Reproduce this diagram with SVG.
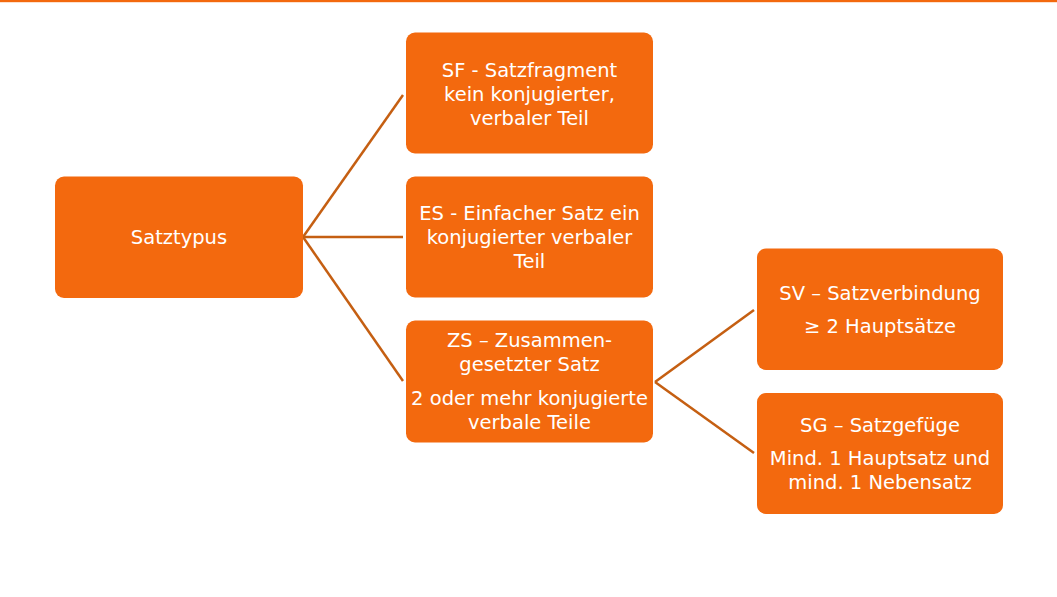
<svg xmlns="http://www.w3.org/2000/svg" width="1057" height="597" viewBox="0 0 1057 597">
<style>
.node rect{fill:#F3690E;}
.node text{fill:#FFFFFF;font-family:"DejaVu Sans",sans-serif;font-size:19.5px;text-anchor:middle;}
.conn line{stroke:#C55F12;stroke-width:2.5;fill:none;}
</style>
<rect x="0" y="0" width="1057" height="597" fill="#FFFFFF"/>
<rect x="0" y="0" width="1057" height="2.2" fill="#F3690E"/>
<g id="connectors" class="conn">
<line x1="303" y1="237" x2="403" y2="95"/>
<line x1="303" y1="237" x2="403" y2="237"/>
<line x1="303" y1="237" x2="403" y2="381"/>
<line x1="655" y1="382" x2="754" y2="310"/>
<line x1="655" y1="382" x2="754" y2="453"/>
</g>
<g id="satztypus" class="node">
<rect x="55" y="176.5" width="248" height="121.5" rx="9"/>
<text x="179" y="244">Satztypus</text>
</g>
<g id="sf" class="node">
<rect x="406" y="32.5" width="247" height="121" rx="9"/>
<text x="529.5" y="77">SF - Satzfragment</text>
<text x="529.5" y="101">kein konjugierter,</text>
<text x="529.5" y="124.5">verbaler Teil</text>
</g>
<g id="es" class="node">
<rect x="406" y="176.5" width="247" height="121" rx="9"/>
<text x="529.5" y="220">ES - Einfacher Satz ein</text>
<text x="529.5" y="244">konjugierter verbaler</text>
<text x="529.5" y="268">Teil</text>
</g>
<g id="zs" class="node">
<rect x="406" y="320.5" width="247" height="122" rx="9"/>
<text x="529.5" y="347">ZS – Zusammen-</text>
<text x="529.5" y="371">gesetzter Satz</text>
<text x="529.5" y="405">2 oder mehr konjugierte</text>
<text x="529.5" y="428.5">verbale Teile</text>
</g>
<g id="sv" class="node">
<rect x="757" y="248.5" width="246" height="121.5" rx="9"/>
<text x="880" y="300">SV – Satzverbindung</text>
<text x="880" y="333">≥ 2 Hauptsätze</text>
</g>
<g id="sg" class="node">
<rect x="757" y="393" width="246" height="121" rx="9"/>
<text x="880" y="432">SG – Satzgefüge</text>
<text x="880" y="465">Mind. 1 Hauptsatz und</text>
<text x="880" y="488.5">mind. 1 Nebensatz</text>
</g>
</svg>
